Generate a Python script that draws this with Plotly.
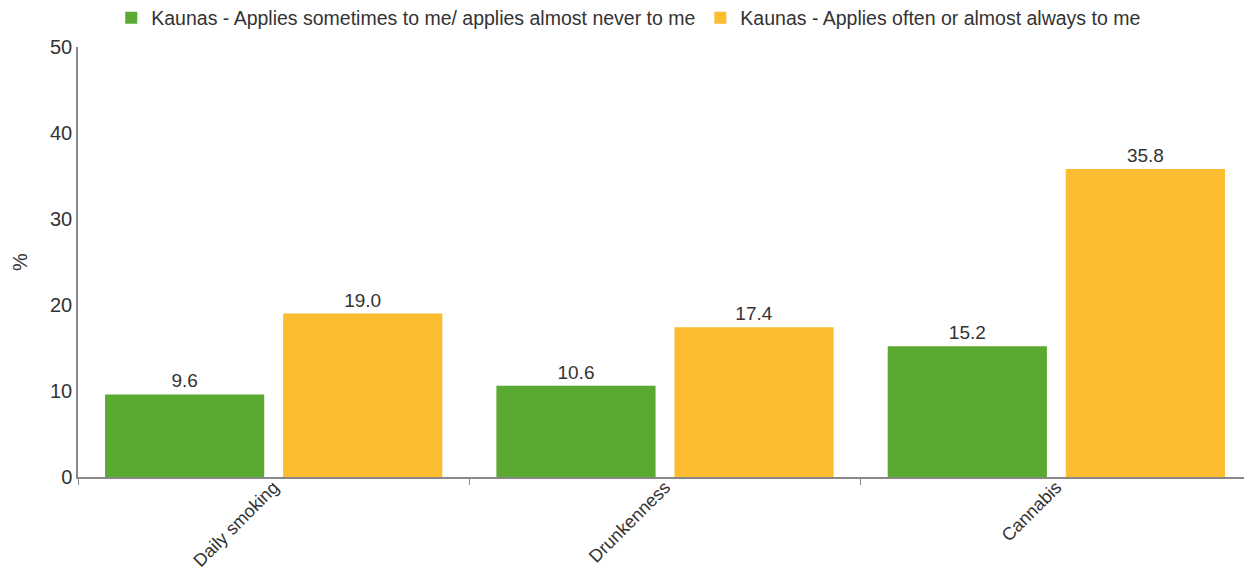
import plotly.graph_objects as go

categories = ["Daily smoking", "Drunkenness", "Cannabis"]
series_names = [
    "Kaunas - Applies sometimes to me/ applies almost never to me",
    "Kaunas - Applies often or almost always to me",
]
values_sometimes = [9.6, 10.6, 15.2]
values_often = [19.0, 17.4, 35.8]
colors = ["#5aaa32", "#fbbc2f"]
y_ticks = [0, 10, 20, 30, 40, 50]
y_title = "%"

font_family = "Liberation Sans, Arial, sans-serif"
text_color = "#333333"

fig = go.Figure()
for name, vals, col in zip(series_names, [values_sometimes, values_often], colors):
    fig.add_trace(go.Bar(
        x=categories, y=vals, name=name,
        marker=dict(color=col, line=dict(width=0)),
        text=[f"{v:.1f}" for v in vals],
        textposition="outside",
        textfont=dict(size=19, color=text_color, family=font_family),
        cliponaxis=False,
    ))

# page body has an 8px margin, so the figure is sized to fit inside the window
fig.update_layout(
    width=1244, height=565,
    margin=dict(l=70, r=0, t=39, b=96, autoexpand=False),
    paper_bgcolor="white", plot_bgcolor="white",
    barmode="group", bargap=0.09, bargroupgap=0.106,
    font=dict(family=font_family, size=19, color=text_color),
    legend=dict(orientation="h", xref="container", x=0.499, xanchor="center",
                yref="paper", y=1.067, yanchor="middle",
                font=dict(size=19.5, color=text_color),
                itemwidth=30, traceorder="normal", itemclick=False),
    showlegend=True,
)
# y-axis title as a rotated annotation to the left of the tick labels
fig.add_annotation(
    text=y_title, xref="paper", yref="paper", x=-0.0494, y=0.5,
    xanchor="center", yanchor="middle", textangle=-90, showarrow=False,
    font=dict(size=20, color=text_color, family=font_family),
)
fig.update_xaxes(
    automargin=False,
    showline=True, linecolor="#888888", linewidth=1.5,
    tickangle=-45, ticks="outside", tickson="boundaries", ticklen=6, tickcolor="#888888",
    ticklabelstandoff=-9,
    showgrid=False, tickfont=dict(size=18, color=text_color),
)
fig.update_yaxes(
    automargin=False,
    range=[0, 50], tickvals=y_ticks, showgrid=False, zeroline=False,
    showline=True, linecolor="#888888", linewidth=1.5,
    ticks="", tickfont=dict(size=20, color=text_color),
)

fig.write_html("out.html")
